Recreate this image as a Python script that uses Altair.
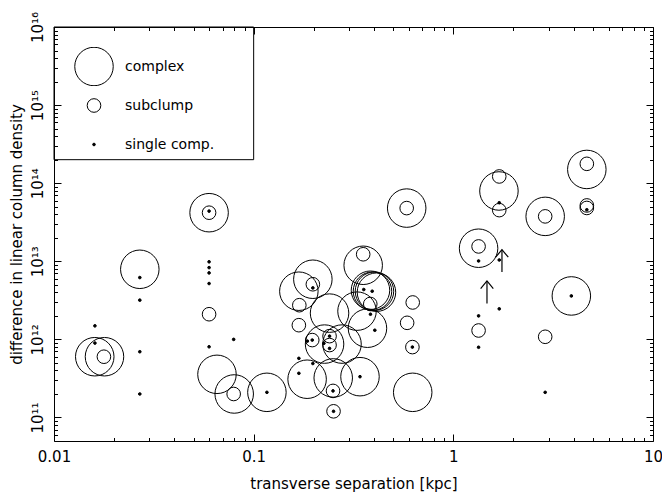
import altair as alt
import pandas as pd

# ---- data ----
kinds = ["complex", "subclump", "single comp."]

complex_x = [0.0160, 0.0179, 0.0269, 0.0598, 0.0655, 0.0799, 0.1165, 0.1684, 0.1979, 0.2399,
             0.3536, 0.3846, 0.3936, 0.4027, 0.4121, 0.3293, 0.3715, 0.2265, 0.2770, 0.1852,
             0.2503, 0.3408, 0.626, 0.584, 1.338, 1.692, 2.884, 4.662, 3.90]
complex_y = [6.0e11, 6.0e11, 7.9e12, 4.19e13, 3.57e11, 2.0e11, 2.1e11, 4.14e12, 5.89e12, 2.17e12,
             8.89e12, 4.26e12, 4.14e12, 4.14e12, 4.02e12, 2.30e12, 1.39e12, 8.71e11, 8.71e11, 3.09e11,
             3.21e11, 3.33e11, 2.1e11, 4.8e13, 1.47e13, 7.95e13, 3.76e13, 1.50e14, 3.6e12]

sub_x = [0.01778, 0.0598, 0.0598, 0.0794, 0.1979, 0.1693, 0.1684, 0.3536, 0.3837, 0.1965,
         0.2399, 0.2399, 0.2497, 0.2512, 0.626, 0.5869, 0.6237, 0.584, 1.338, 1.338,
         1.698, 1.698, 2.884, 2.884, 4.662, 4.662, 4.662]
sub_y = [6.0e11, 4.19e13, 2.10e12, 2.0e11, 5.08e12, 2.74e12, 1.52e12, 1.23e13, 2.84e12, 9.8e11,
         1.10e12, 8.46e11, 2.19e11, 1.20e11, 2.97e12, 1.63e12, 7.97e11, 4.8e13, 1.55e13, 1.30e12,
         1.22e14, 4.52e13, 3.76e13, 1.08e12, 1.77e14, 5.19e13, 4.82e13]

single_x = [0.01603, 0.01603, 0.0269, 0.0269, 0.0269, 0.0269, 0.0598, 0.0598, 0.0598, 0.0598,
            0.0598, 0.0598, 0.0794, 0.1165, 0.1979, 0.3560, 0.3923, 0.3846, 0.4043, 0.1856,
            0.1965, 0.2399, 0.2247, 0.2399, 0.1684, 0.1979, 0.1684, 0.3408, 0.2497, 0.2512,
            0.6237, 1.338, 1.698, 1.698, 1.698, 1.338, 1.338, 3.90, 2.884, 4.662]
single_y = [1.49e12, 8.97e11, 6.19e12, 3.18e12, 6.95e11, 2.0e11, 4.39e13, 9.85e12, 8.3e12, 7.1e12,
            5.19e12, 8.04e11, 1.0e12, 2.1e11, 4.56e12, 4.35e12, 4.14e12, 2.10e12, 1.31e12, 9.5e11,
            9.8e11, 1.10e12, 8.9e11, 7.67e11, 5.72e11, 4.91e11, 3.68e11, 3.33e11, 2.19e11, 1.20e11,
            7.97e11, 1.01e13, 5.62e13, 1.04e13, 2.46e12, 2.0e12, 7.93e11, 3.6e12, 2.1e11, 4.57e13]

arrow_x = [1.474, 1.752]
arrow_lo = [2.88e12, 7.3e12]
arrow_hi = [5.6e12, 1.41e13]

# legend frame, in data units
box_x = [0.01]
box_x2 = [0.1]
box_y = [2e14]
box_y2 = [1e16]

x_major = [0.01, 0.1, 1, 10]
x_minor = [m * 10.0 ** e for e in (-2, -1, 0) for m in range(2, 10)]
y_major = [1e11, 1e12, 1e13, 1e14, 1e15, 1e16]
y_minor = [m * 10.0 ** e for e in range(10, 16) for m in range(2, 10) if 6e10 <= m * 10.0 ** e < 1e16]

circles = pd.DataFrame({
    "sep": complex_x + sub_x,
    "dn": complex_y + sub_y,
    "kind": ["complex"] * len(complex_x) + ["subclump"] * len(sub_x),
})
dots = pd.DataFrame({"sep": single_x, "dn": single_y, "kind": ["single comp."] * len(single_x)})
arrows = pd.DataFrame({"sep": arrow_x, "lo": arrow_lo, "hi": arrow_hi})
box = pd.DataFrame({"x": box_x, "x2": box_x2, "y": box_y, "y2": box_y2})

FONT = "DejaVu Sans"
xscale = alt.Scale(type="log", domain=[0.01, 10], nice=False)
yscale = alt.Scale(type="log", domain=[5e10, 1e16], nice=False)

MAJ = 7
MIN = 3.5


def tick_axis(orient, values, size, **kw):
    return alt.Axis(orient=orient, values=values, tickSize=size, offset=-size, domain=False,
                    grid=False, ticks=True, tickColor="black", tickWidth=1, **kw)


x_bottom_major = tick_axis("bottom", x_major, MAJ, labels=True, format="~g", labelFont=FONT,
                           labelFontSize=15, labelColor="black", labelPadding=8, labelFlush=False,
                           labelOverlap=False, title="transverse separation [kpc]", titleFont=FONT,
                           titleFontSize=15, titleFontWeight="normal", titleColor="black",
                           titlePadding=12)
y_left_major = tick_axis("left", y_major, MAJ, labels=True, labelFont=FONT, labelFontSize=15,
                         labelColor="black", labelPadding=9, labelAngle=-90, labelAlign="center",
                         labelBaseline="bottom", labelFlush=False, labelOverlap=False,
                         labelExpr="'10' + ['¹¹','¹²','¹³','¹⁴','¹⁵','¹⁶'][round(log(datum.value)/LN10) - 11]",
                         title="difference in linear column density", titleFont=FONT,
                         titleFontSize=15, titleFontWeight="normal", titleColor="black",
                         titlePadding=6)
x_top_major = tick_axis("top", x_major, MAJ, labels=False, title=None)
y_right_major = tick_axis("right", y_major, MAJ, labels=False, title=None)
x_bottom_minor = tick_axis("bottom", x_minor, MIN, labels=False, title=None)
y_left_minor = tick_axis("left", y_minor, MIN, labels=False, title=None)
x_top_minor = tick_axis("top", x_minor, MIN, labels=False, title=None)
y_right_minor = tick_axis("right", y_minor, MIN, labels=False, title=None)

legend = alt.Legend(orient="top-left", offset=0, title=None, padding=20, clipHeight=39,
                    rowPadding=0, labelOffset=11, labelFont=FONT, labelFontSize=14,
                    labelColor="black", symbolType="circle", symbolStrokeColor="black",
                    symbolStrokeWidth=1, symbolOpacity=1)

size_enc = alt.Size("kind:N", scale=alt.Scale(type="ordinal", domain=kinds, range=[1482, 185, 7]),
                    legend=legend)
fill_enc = alt.Fill("kind:N", scale=alt.Scale(domain=kinds, range=["transparent", "transparent", "black"]),
                    legend=legend)
stroke_enc = alt.Stroke("kind:N", scale=alt.Scale(domain=kinds, range=["black", "black", "black"]),
                        legend=legend)

frame = alt.Chart(box).mark_rect(fillOpacity=0, stroke="black", strokeWidth=1).encode(
    x=alt.X("x:Q", scale=xscale, axis=x_top_major),
    x2="x2:Q",
    y=alt.Y("y:Q", scale=yscale, axis=y_right_major),
    y2="y2:Q",
)

circ = alt.Chart(circles).mark_point(shape="circle", filled=True, strokeWidth=1,
                                     opacity=1).encode(
    x=alt.X("sep:Q", scale=xscale, axis=x_bottom_major),
    y=alt.Y("dn:Q", scale=yscale, axis=y_left_major),
    size=size_enc,
    fill=fill_enc,
    stroke=stroke_enc,
)

dot = alt.Chart(dots).mark_point(shape="circle", filled=True, strokeWidth=1,
                                 opacity=1).encode(
    x=alt.X("sep:Q", scale=xscale, axis=x_bottom_minor),
    y=alt.Y("dn:Q", scale=yscale, axis=y_left_minor),
    size=size_enc,
    fill=fill_enc,
    stroke=stroke_enc,
)

shaft = alt.Chart(arrows).mark_rule(color="black", strokeWidth=1.2).encode(
    x=alt.X("sep:Q", scale=xscale, axis=x_top_minor),
    y=alt.Y("lo:Q", scale=yscale, axis=y_right_minor),
    y2="hi:Q",
)

head = alt.Chart(arrows).mark_point(shape="M -1 1.2 L 0 0 L 1 1.2", filled=False, stroke="black",
                                    strokeWidth=1.2, size=160, opacity=1).encode(
    x=alt.X("sep:Q", scale=xscale, axis=None),
    y=alt.Y("hi:Q", scale=yscale, axis=None),
)

chart = alt.layer(frame, circ, dot, shaft, head).resolve_axis(
    x="independent", y="independent"
).properties(
    width=599, height=414,
    autosize=alt.AutoSizeParams(type="none"),
    padding={"left": 54, "top": 27, "right": 9, "bottom": 54},
    background="white",
).configure_view(stroke="black", strokeWidth=1)

chart.save("out.html", embed_options={"renderer": "svg", "actions": False})
